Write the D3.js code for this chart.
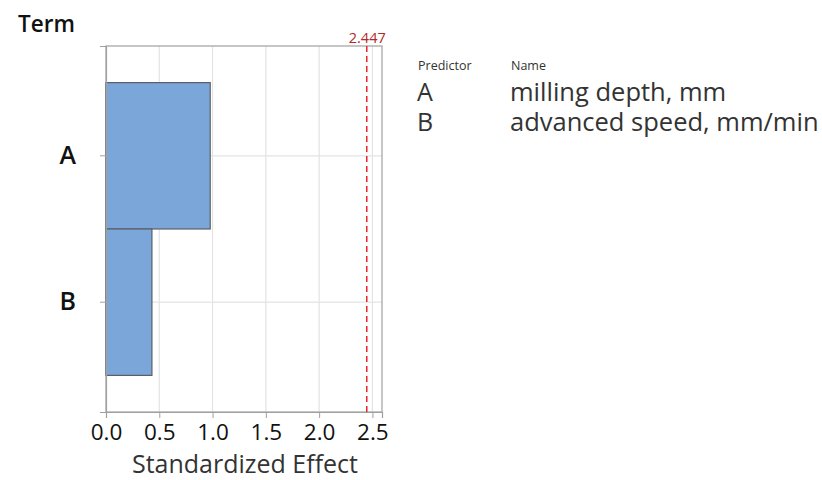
<!DOCTYPE html>
<html><head><meta charset="utf-8">
<script src="https://cdn.jsdelivr.net/npm/d3@7"></script>
<style>body{margin:0;background:#fff;}svg{display:block;font-family:"Open Sans","Noto Sans",sans-serif;}</style>
</head><body>
<svg id="c" width="822" height="480"></svg>
<script>
const terms = ["A", "B"];
const effects = [0.978, 0.431];
const names = ["milling depth, mm", "advanced speed, mm/min"];
const xTicks = [0.0, 0.5, 1.0, 1.5, 2.0, 2.5];
const critical = 2.447;

const svg = d3.select("#c");
const L = 106, R = 382, T = 46, B = 412;
const x = d3.scaleLinear().domain([0, 2.59]).range([L, R]);
const y = d3.scaleBand().domain(terms).range([T, B]).paddingInner(0).paddingOuter(0.25);

// grid
svg.append("g").selectAll("line").data(xTicks.filter(d => d > 0)).join("line")
  .attr("x1", d => x(d)).attr("x2", d => x(d)).attr("y1", T).attr("y2", B)
  .attr("stroke", "#e3e3e3").attr("stroke-width", 1.2);
svg.append("g").selectAll("line").data(terms).join("line")
  .attr("x1", L).attr("x2", R).attr("y1", d => y(d) + y.bandwidth() / 2).attr("y2", d => y(d) + y.bandwidth() / 2)
  .attr("stroke", "#e3e3e3").attr("stroke-width", 1.2);
// frame
svg.append("rect").attr("x", L).attr("y", T).attr("width", R - L).attr("height", B - T)
  .attr("fill", "none").attr("stroke", "#a0a0a0").attr("stroke-width", 1.2);
// bars
svg.append("g").selectAll("rect").data(terms).join("rect")
  .attr("x", x(0)).attr("y", d => y(d)).attr("width", (d, i) => x(effects[i]) - x(0)).attr("height", y.bandwidth())
  .attr("fill", "#7ba6da").attr("stroke", "#5a5f66").attr("stroke-width", 1.2);
// reference line
svg.append("line").attr("x1", x(critical)).attr("x2", x(critical)).attr("y1", T).attr("y2", B)
  .attr("stroke", "#e8262c").attr("stroke-width", 1.5).attr("stroke-dasharray", "6,4");
svg.append("text").attr("x", x(critical) + 19).attr("y", 43).attr("text-anchor", "end")
  .attr("fill", "#b02a2a").attr("font-size", 14.5).text(critical.toFixed(3));

// axes
const xa = svg.append("g").attr("transform", `translate(0,${B})`)
  .call(d3.axisBottom(x).tickValues(xTicks).tickFormat(d3.format(".1f")).tickSizeOuter(0).tickSize(6).tickPadding(6));
xa.select(".domain").attr("stroke", "#a0a0a0").attr("stroke-width", 1.2);
xa.selectAll(".tick line").attr("stroke", "#a0a0a0");
xa.selectAll("text").attr("font-size", 22.5).attr("fill", "#111").attr("font-family", "Open Sans");
const ya = svg.append("g").attr("transform", `translate(${L},0)`)
  .call(d3.axisLeft(y).tickSizeOuter(0).tickSize(6).tickPadding(24));
ya.select(".domain").attr("stroke", "#a0a0a0").attr("stroke-width", 1.2);
ya.selectAll(".tick line").attr("stroke", "#a0a0a0");
ya.selectAll("text").attr("font-size", 25).attr("font-weight", 600).attr("fill", "#111").attr("font-family", "Open Sans");

svg.append("text").attr("x", 18).attr("y", 32).attr("font-size", 22.5).attr("font-weight", 600).attr("fill", "#111").text("Term");
svg.append("text").attr("x", (L + R) / 2 + 1).attr("y", 473).attr("text-anchor", "middle").attr("font-size", 25).attr("fill", "#333").text("Standardized Effect");

// legend table
svg.append("text").attr("x", 418).attr("y", 70).attr("font-size", 12.5).attr("fill", "#333").text("Predictor");
svg.append("text").attr("x", 511).attr("y", 70).attr("font-size", 12.5).attr("fill", "#333").text("Name");
const lg = svg.append("g");
lg.selectAll("text.t").data(terms).join("text").attr("class", "t")
  .attr("x", 417).attr("y", (d, i) => 101 + i * 30).attr("font-size", 25).attr("fill", "#333").text(d => d);
lg.selectAll("text.n").data(names).join("text").attr("class", "n")
  .attr("x", 510).attr("y", (d, i) => 101 + i * 30).attr("font-size", 25.5).attr("fill", "#333").text(d => d);
</script>
</body></html>
